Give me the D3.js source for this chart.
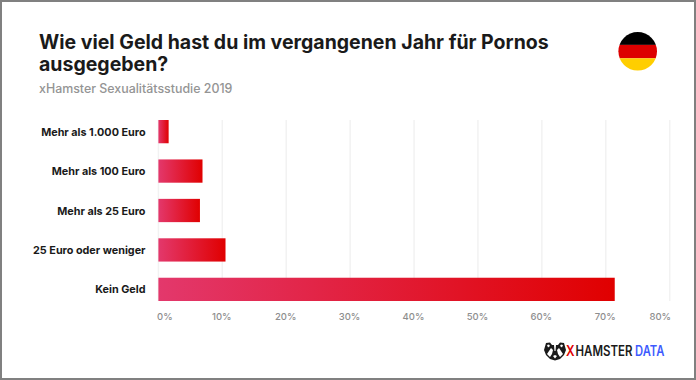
<!DOCTYPE html>
<html><head><meta charset="utf-8">
<script src="https://cdn.jsdelivr.net/npm/d3@7/dist/d3.min.js"></script>
<style>html,body{margin:0;padding:0;background:#fff}svg{display:block}text{font-family:Inter,"Open Sans",sans-serif}</style>
</head><body><svg id="c" width="696" height="380"></svg>
<script>
const categories = ["Mehr als 1.000 Euro","Mehr als 100 Euro","Mehr als 25 Euro","25 Euro oder weniger","Kein Geld"];
const values = [1.6,6.9,6.5,10.5,71.4];
const tickValues = [0,10,20,30,40,50,60,70,80];
const titleLines = ["Wie viel Geld hast du im vergangenen Jahr für Pornos","ausgegeben?"];
const subtitle = "xHamster Sexualitätsstudie 2019";
const flagColors = ["#000000","#dd0000","#ffce00"];

const svg = d3.select("#c");
const x = d3.scaleLinear().domain([0,80]).range([158.4,669.7]);
const y = d3.scaleBand().domain(categories).range([120,301]).paddingInner(0.41).paddingOuter(0);

const defs = svg.append("defs");
const g = defs.append("linearGradient").attr("id","bar");
g.append("stop").attr("offset","0%").attr("stop-color","#e3386c");
g.append("stop").attr("offset","100%").attr("stop-color","#e00000");
defs.append("clipPath").attr("id","flag").append("circle").attr("cx",637.7).attr("cy",51.3).attr("r",19.3);

svg.append("rect").attr("x",1).attr("y",1).attr("width",694).attr("height",378).attr("fill","#fff").attr("stroke","#808080").attr("stroke-width",2);

svg.append("g").selectAll("text").data(titleLines).join("text")
  .attr("x",39).attr("y",(d,i)=>49.3+i*22).attr("font-size",19.5).attr("font-weight",700).attr("fill","#1a1a1a").text(d=>d);
svg.append("text").attr("x",39).attr("y",93).attr("font-size",12.4).attr("font-weight",500).attr("fill","#949494").text(subtitle);

svg.append("g").selectAll("line").data(tickValues).join("line")
  .attr("x1",d=>x(d)).attr("x2",d=>x(d)).attr("y1",120).attr("y2",301).attr("stroke","#f2f2f2").attr("stroke-width",1.5);

svg.append("g").selectAll("rect").data(values).join("rect")
  .attr("x",x(0)).attr("y",(d,i)=>y(categories[i])).attr("width",d=>x(d)-x(0)).attr("height",y.bandwidth())
  .attr("fill","url(#bar)");

svg.append("g").selectAll("text").data(categories).join("text")
  .attr("x",145.5).attr("y",d=>y(d)+y.bandwidth()/2+4).attr("text-anchor","end")
  .attr("font-size",10.8).attr("font-weight",700).attr("fill","#1a1a1a").text(d=>d);

svg.append("g").selectAll("text").data(tickValues).join("text")
  .attr("x",d=>d===0?157:d===80?671:x(d)-0.6).attr("y",319.5)
  .attr("text-anchor",d=>d===0?"start":d===80?"end":"middle")
  .attr("font-size",9.5).attr("font-weight",500).attr("fill","#8e8e8e").text(d=>d+"%");

const f = svg.append("g").attr("clip-path","url(#flag)");
f.selectAll("rect").data(flagColors).join("rect")
  .attr("x",618).attr("width",40).attr("y",(d,i)=>31.5+i*13.4).attr("height",13.4).attr("fill",d=>d);

const logo = svg.append("g").attr("transform","translate(555,351)");
logo.append("path").attr("d","M-11,-1 L-9,-8 L-5,-8.5 L-3,-6 L3,-6 L5,-8.5 L9,-8 L11,-1 L9,4 L5,8 L0,9.5 L-5,8 L-9,4 Z").attr("fill","#1a1a1a");
logo.append("path").attr("d","M-8,3 L-4,-3 L-2,-1 L-3,3 L-5,6 Z M8,3 L4,-3 L2,-1 L3,3 L5,6 Z M-2,5 L0,4 L2,5 L0,7.5 Z M-1,-6 L1,-6 L0.5,0 L-0.5,0 Z M-8,-6 L-6,-6.5 L-5,-5 L-7,-3.5 Z M8,-6 L6,-6.5 L5,-5 L7,-3.5 Z").attr("fill","#fff");

const logoParts = [["X","#e00000",566,.85],["HAMSTER","#1a1a1a",575.5,.82],["DATA","#3d5afe",635,.8]];
svg.append("g").selectAll("text").data(logoParts).join("text")
  .attr("transform",d=>`translate(${d[2]},356) scale(${d[3]},1)`).attr("font-size",14)
  .attr("font-weight",600).attr("font-family","'Open Sans',sans-serif").attr("fill",d=>d[1]).text(d=>d[0]);
</script></body></html>
